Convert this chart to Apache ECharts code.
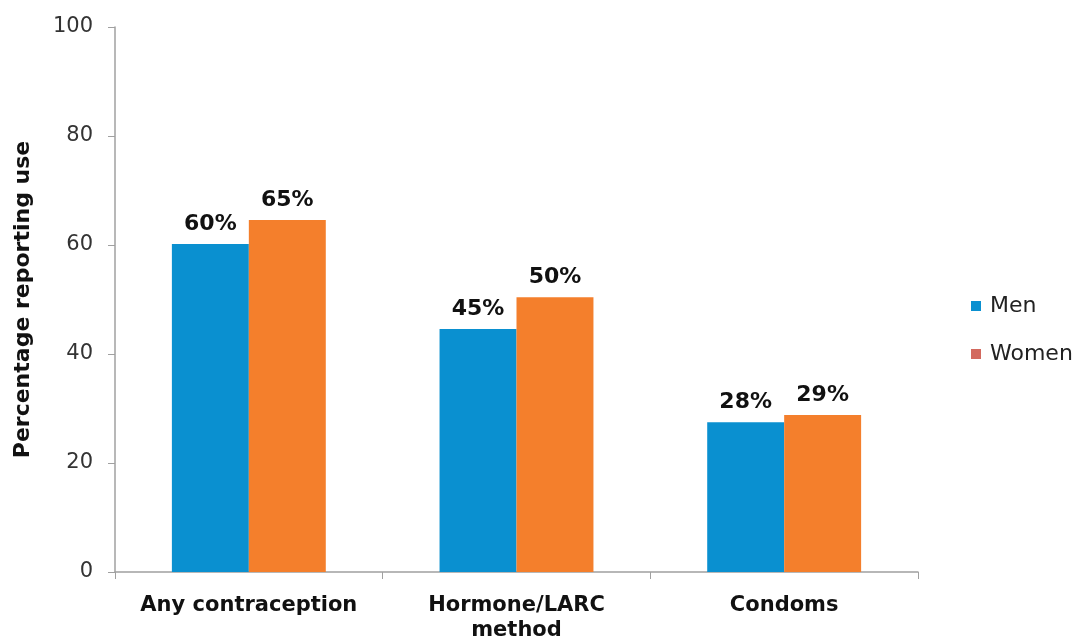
<!DOCTYPE html>
<html><head><meta charset="utf-8">
<script src="https://cdn.jsdelivr.net/npm/echarts@6/dist/echarts.min.js"></script>
<style>html,body{margin:0;padding:0;background:#fff}#c{width:1082px;height:638px}</style>
</head><body><div id="c"></div>
<script>
const categories = ['Any contraception', 'Hormone/LARC\nmethod', 'Condoms'];
const men = [60.2, 44.6, 27.5];
const women = [64.6, 50.4, 28.8];
const yTicks = [0, 20, 40, 60, 80, 100];

const chart = echarts.init(document.getElementById('c'));
const lbl = {
  show: true, position: 'top', distance: 9,
  fontFamily: 'DejaVu Sans', fontWeight: 'bold', fontSize: 22, color: '#111',
  formatter: p => Math.round(p.value) + '%'
};
chart.setOption({
  animation: false,
  grid: { left: 115, right: 164, top: 27, bottom: 66, outerBoundsMode: 'none', containLabel: false },
  legend: {
    orient: 'vertical', left: 966, top: 290, itemGap: 26,
    itemWidth: 10, itemHeight: 10, icon: 'rect',
    textStyle: { fontFamily: 'DejaVu Sans', fontSize: 22, color: '#222', padding: [0, 0, 0, 4] },
    data: [
      { name: 'Men', itemStyle: { color: '#0A90D0' } },
      { name: 'Women', itemStyle: { color: '#D3695E' } }
    ]
  },
  xAxis: {
    type: 'category', data: categories,
    axisLine: { lineStyle: { color: '#a0a0a0', width: 1.5 } },
    axisTick: { show: true, length: 7, alignWithLabel: false, lineStyle: { color: '#a0a0a0' } },
    axisLabel: { interval: 0, hideOverlap: false, fontFamily: 'DejaVu Sans', fontWeight: 'bold', fontSize: 21, color: '#111', margin: 21, lineHeight: 25 }
  },
  yAxis: {
    type: 'value', min: 0, max: 100, interval: 20,
    name: 'Percentage reporting use', nameLocation: 'middle', nameGap: 81,
    nameTextStyle: { fontFamily: 'DejaVu Sans', fontWeight: 'bold', fontSize: 22, color: '#111' },
    splitLine: { show: false },
    axisLine: { show: true, lineStyle: { color: '#a0a0a0', width: 1.5 } },
    axisTick: { show: true, length: 7, lineStyle: { color: '#a0a0a0' } },
    axisLabel: { fontFamily: 'DejaVu Sans', fontSize: 21, color: '#333', margin: 22,
      formatter: v => yTicks.includes(v) ? String(v) : '' }
  },
  series: [
    { name: 'Men', type: 'bar', data: men, barGap: '0%', barCategoryGap: '42.5%',
      itemStyle: { color: '#0A90D0' }, label: lbl },
    { name: 'Women', type: 'bar', data: women, barGap: '0%', barCategoryGap: '42.5%',
      itemStyle: { color: '#F47F2C' }, label: lbl }
  ]
});
</script></body></html>
